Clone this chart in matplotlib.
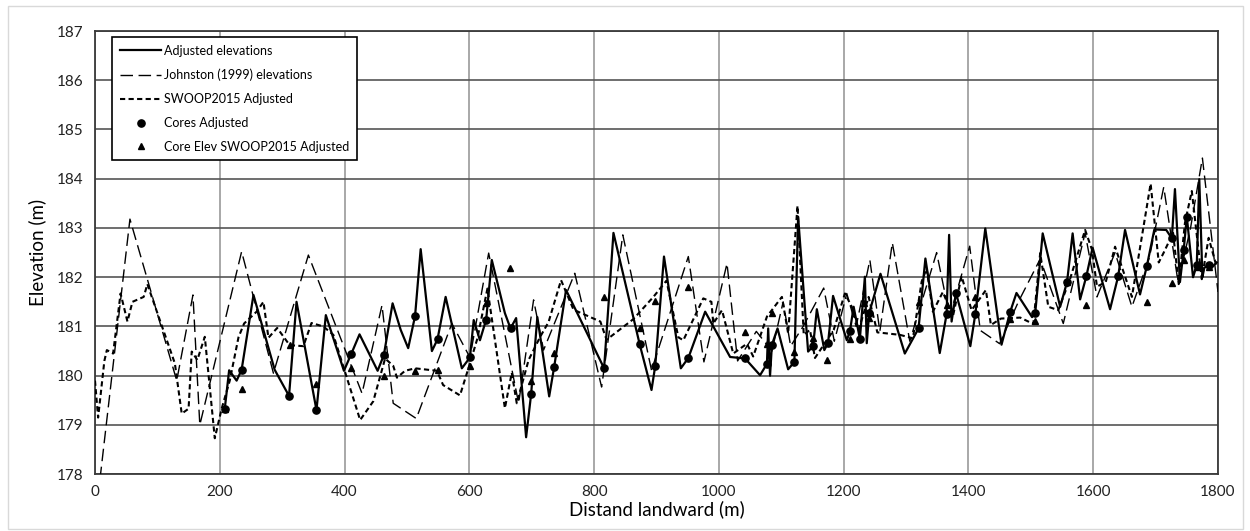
import matplotlib
matplotlib.use("Agg")
import matplotlib.pyplot as plt
from matplotlib.patches import Rectangle

plt.rcParams["font.family"] = ["Lato", "DejaVu Sans"]

# Adjusted elevations (solid)
ADJ_X = [208, 215, 227, 235, 254, 288, 311, 323, 355, 370,
         399, 411, 424, 453, 463, 477, 490, 502, 513, 522,
         540, 549, 562, 588, 601, 607, 617, 627, 636, 657,
         666, 675, 691, 699, 709, 728, 736, 755, 816, 831,
         873, 892, 898, 912, 939, 951, 978, 1018, 1042, 1066,
         1077, 1079, 1082, 1085, 1094, 1111, 1121, 1127, 1143, 1151,
         1157, 1169, 1175, 1183, 1205, 1210, 1216, 1226, 1234, 1237,
         1241, 1259, 1298, 1320, 1331, 1354, 1365, 1369, 1373, 1380,
         1403, 1411, 1427, 1453, 1467, 1477, 1502, 1507, 1519, 1547,
         1558, 1567, 1579, 1589, 1599, 1627, 1640, 1651, 1675, 1686,
         1698, 1717, 1726, 1731, 1739, 1745, 1750, 1760, 1766, 1770,
         1775, 1778, 1785, 1790, 1798]
ADJ_Y = [179.33, 180.11, 179.90, 180.12, 181.64, 180.12, 179.59, 181.50, 179.30, 181.23,
         180.10, 180.45, 180.84, 180.10, 180.42, 181.47, 180.93, 180.56, 181.21, 182.57,
         180.50, 180.74, 181.60, 180.15, 180.37, 181.13, 180.72, 181.14, 182.35, 181.27,
         180.96, 181.17, 178.75, 179.62, 181.19, 179.58, 180.18, 181.74, 180.15, 182.90,
         180.64, 179.71, 180.20, 182.42, 180.15, 180.36, 181.30, 180.38, 180.35, 180.01,
         180.24, 180.96, 180.00, 180.63, 180.96, 180.13, 180.28, 183.23, 180.49, 180.60,
         181.35, 180.52, 180.67, 181.62, 180.72, 180.90, 181.40, 180.75, 182.01, 180.66,
         181.28, 182.07, 180.45, 180.96, 182.38, 180.46, 181.25, 182.86, 181.10, 181.68,
         180.60, 181.25, 182.99, 180.63, 181.30, 181.68, 181.19, 181.27, 182.89, 181.40,
         181.90, 182.89, 181.55, 182.02, 182.60, 181.35, 182.02, 182.96, 181.65, 182.23,
         182.97, 182.96, 182.79, 183.79, 181.90, 182.55, 183.23, 182.00, 182.25, 183.99,
         182.00, 182.19, 182.25, 182.20, 182.30]

# Johnston (1999) elevations (long dash)
JOH_X = [8, 56, 131, 157, 168, 235, 286, 342, 428, 460,
         478, 515, 572, 601, 631, 679, 703, 719, 769, 812,
         846, 892, 951, 976, 1013, 1030, 1060, 1085, 1103, 1115,
         1135, 1168, 1185, 1205, 1220, 1242, 1258, 1278, 1306, 1349,
         1370, 1402, 1419, 1450, 1480, 1515, 1552, 1587, 1606, 1635,
         1662, 1690, 1713, 1736, 1756, 1775, 1800]
JOH_Y = [177.90, 183.18, 179.90, 181.64, 179.00, 182.52, 180.05, 182.45, 179.64, 181.43,
         179.44, 179.13, 181.06, 180.37, 182.49, 179.44, 181.54, 180.52, 182.08, 179.77,
         182.86, 180.11, 182.42, 180.28, 182.28, 180.30, 180.90, 180.50, 181.50, 180.60,
         181.00, 181.78, 180.70, 181.67, 181.00, 182.35, 180.90, 182.70, 180.70, 182.50,
         181.20, 182.63, 180.92, 180.65, 181.50, 182.37, 181.06, 182.90, 181.60, 182.50,
         181.40, 182.40, 183.83, 181.90, 183.00, 184.42, 181.70]

# SWOOP2015 Adjusted (short dash)
SWP_X = [0, 5, 15, 19, 29, 41, 52, 60, 78, 84,
         91, 128, 139, 150, 155, 164, 176, 192, 203, 216,
         230, 239, 259, 270, 278, 292, 312, 334, 347, 366,
         382, 425, 446, 465, 478, 484, 497, 513, 548, 558,
         585, 601, 613, 629, 657, 668, 676, 695, 714, 727,
         747, 767, 810, 820, 863, 895, 916, 935, 943, 975,
         988, 991, 1005, 1023, 1045, 1055, 1077, 1101, 1111, 1126,
         1136, 1146, 1154, 1184, 1202, 1213, 1224, 1240, 1254, 1290,
         1311, 1325, 1333, 1343, 1359, 1375, 1389, 1405, 1428, 1436,
         1452, 1483, 1504, 1515, 1528, 1544, 1563, 1587, 1598, 1606,
         1620, 1635, 1662, 1692, 1705, 1713, 1728, 1737, 1747, 1758,
         1774, 1785, 1798]
SWP_Y = [179.90, 179.15, 180.30, 180.52, 180.45, 181.67, 181.10, 181.50, 181.60, 181.86,
         181.60, 180.25, 179.23, 179.33, 180.49, 180.32, 180.79, 178.73, 179.33, 179.90,
         180.78, 181.06, 181.30, 181.50, 180.77, 180.97, 180.62, 180.60, 181.07, 181.00,
         180.83, 179.10, 179.48, 180.35, 180.20, 179.96, 180.10, 180.15, 180.10, 179.81,
         179.60, 180.25, 180.76, 181.77, 179.34, 180.06, 179.44, 180.32, 180.80, 181.09,
         181.94, 181.34, 181.10, 180.73, 181.15, 181.60, 181.93, 180.78, 180.72, 181.57,
         181.50, 181.06, 181.33, 180.45, 180.65, 180.39, 181.20, 181.60, 180.86, 183.45,
         180.83, 180.93, 180.36, 180.93, 181.67, 181.40, 180.93, 181.60, 180.88, 180.83,
         180.76, 181.91, 182.18, 181.30, 181.70, 181.20, 182.02, 181.33, 181.74, 181.03,
         181.16, 181.18, 181.05, 182.49, 181.40, 181.33, 181.97, 182.96, 182.56, 181.81,
         181.90, 182.62, 181.60, 183.90, 182.30, 182.50, 182.90, 181.86, 183.10, 183.75,
         181.96, 182.80, 182.20]

# Cores Adjusted (dots)
CORE_X = [208, 235, 311, 355, 411, 463, 513, 549, 601, 627,
          666, 699, 736, 816, 873, 898, 951, 1042, 1077, 1085,
          1121, 1151, 1175, 1210, 1226, 1241, 1320, 1365, 1380, 1411,
          1467, 1507, 1558, 1589, 1640, 1686, 1726, 1745, 1750, 1766,
          1785]
CORE_Y = [179.33, 180.12, 179.59, 179.30, 180.45, 180.42, 181.21, 180.74, 180.37, 181.14,
          180.96, 179.62, 180.18, 180.15, 180.64, 180.20, 180.36, 180.35, 180.24, 180.63,
          180.28, 180.60, 180.67, 180.90, 180.75, 181.28, 180.96, 181.25, 181.68, 181.25,
          181.30, 181.27, 181.90, 182.02, 182.02, 182.23, 182.79, 182.55, 183.23, 182.25,
          182.25]

# Core Elev SWOOP2015 Adjusted (triangles)
TRI_X = [208, 235, 313, 355, 411, 463, 513, 549, 601, 627,
         665, 699, 736, 816, 873, 898, 951, 1042, 1077, 1085,
         1121, 1151, 1173, 1210, 1232, 1240, 1320, 1365, 1411, 1467,
         1507, 1558, 1589, 1686, 1726, 1745, 1766, 1785]
TRI_Y = [179.33, 179.74, 180.62, 179.84, 180.15, 180.00, 180.10, 180.12, 180.19, 181.47,
         182.18, 179.90, 180.46, 181.60, 180.96, 181.52, 181.80, 180.89, 180.65, 181.27,
         180.49, 180.77, 180.32, 180.74, 181.47, 181.17, 181.50, 181.43, 181.60, 181.16,
         181.12, 181.90, 181.43, 181.50, 181.88, 182.35, 182.20, 182.20]

fig = plt.figure(figsize=(12.5, 5.31), dpi=100)
fig.patches.append(Rectangle((0.006, 0.004), 0.988, 0.985, transform=fig.transFigure,
                             fill=False, edgecolor="#d9d9d9", lw=1))
ax = fig.add_axes([0.076, 0.107, 0.8984, 0.8346])

ax.plot(ADJ_X, ADJ_Y, color="black", lw=1.6, label="Adjusted elevations", zorder=4)
ax.plot(JOH_X, JOH_Y, color="black", lw=1.0, dashes=(9, 4), label="Johnston (1999) elevations", zorder=3)
ax.plot(SWP_X, SWP_Y, color="black", lw=1.5, dashes=(2.5, 1.6), label="SWOOP2015 Adjusted", zorder=3)
ax.plot(CORE_X, CORE_Y, "o", color="black", ms=5.2, label="Cores Adjusted", zorder=6)
ax.plot(TRI_X, TRI_Y, "^", color="black", ms=5, label="Core Elev SWOOP2015 Adjusted", zorder=5)

ax.set_xlim(0, 1800)
ax.set_ylim(178, 187)
ax.set_xticks(range(0, 1801, 200))
ax.set_yticks(range(178, 188))
ax.tick_params(length=0, labelsize=11, pad=8, colors="#222222")
ax.xaxis.grid(True, color="#9a9a9a", lw=1.2)
ax.yaxis.grid(True, color="#555555", lw=1.2)
ax.set_axisbelow(True)
for s in ax.spines.values():
    s.set_color("#3a3a3a")
    s.set_linewidth(1.3)

ax.set_xlabel("Distand landward (m)", fontsize=13.5, labelpad=1)
ax.set_ylabel("Elevation (m)", fontsize=13.5, labelpad=8)

leg = ax.legend(loc="upper left", bbox_to_anchor=(0.0155, 0.986), fontsize=9,
                frameon=True, fancybox=False, edgecolor="black", framealpha=1,
                handlelength=3.3, handletextpad=0.25, labelspacing=0.95,
                borderpad=0.6, borderaxespad=0)
leg.get_frame().set_linewidth(1.2)

fig.savefig("out.png", dpi=100)
